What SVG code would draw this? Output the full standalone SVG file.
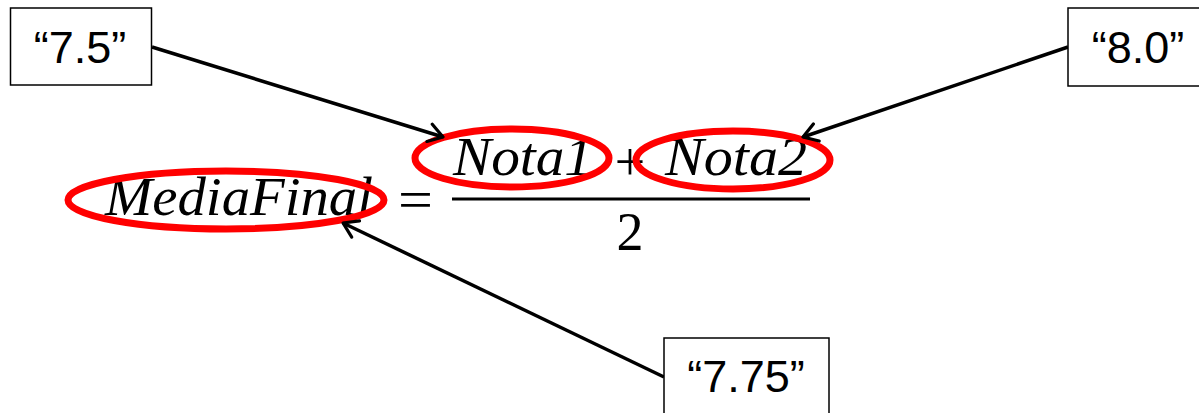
<svg xmlns="http://www.w3.org/2000/svg" width="1199" height="413" viewBox="0 0 1199 413">
<style>
.box{fill:#fff;stroke:#000;stroke-width:1.5}
.lbl{font-family:"Liberation Sans",Arial,sans-serif;font-size:45px;fill:#000;text-anchor:middle}
.math{font-family:"Liberation Serif","DejaVu Serif",serif;font-style:italic;font-size:54px;fill:#000}
.up{font-family:"Liberation Serif","DejaVu Serif",serif;font-size:54px;fill:#000}
.ring{fill:none;stroke:#ff0000;stroke-width:7}
.conn{stroke:#000;stroke-width:3.5;fill:none}
</style>
<defs>
<marker id="arr" viewBox="0 0 18 22" refX="16" refY="11" markerWidth="18" markerHeight="22" markerUnits="userSpaceOnUse" orient="auto">
<path d="M2,2 L16,11 L2,20" fill="none" stroke="#000" stroke-width="3.2" stroke-linecap="round" stroke-linejoin="round"/>
</marker>
</defs>
<g id="equation">
<text class="math" x="105" y="215" textLength="268" lengthAdjust="spacingAndGlyphs">MediaFinal</text>
<text class="up" x="398" y="218" font-size="62" textLength="35" lengthAdjust="spacingAndGlyphs">=</text>
<line x1="452" y1="199" x2="810" y2="199" stroke="#000" stroke-width="3"/>
<text class="math" x="453" y="175" textLength="140" lengthAdjust="spacingAndGlyphs">Nota1</text>
<text class="up" x="630" y="180" font-size="60" text-anchor="middle">+</text>
<text class="math" x="665" y="175" textLength="142" lengthAdjust="spacingAndGlyphs">Nota2</text>
<text class="up" x="630" y="250" text-anchor="middle">2</text>
</g>
<g id="rings">
<ellipse class="ring" cx="226" cy="200" rx="158" ry="29"/>
<ellipse class="ring" cx="512" cy="158" rx="97" ry="29"/>
<ellipse class="ring" cx="733" cy="160" rx="97" ry="29"/>
</g>
<g id="connectors">
<line class="conn" x1="152" y1="47" x2="443" y2="137" marker-end="url(#arr)"/>
<line class="conn" x1="1068" y1="47" x2="803" y2="137" marker-end="url(#arr)"/>
<line class="conn" x1="664" y1="377" x2="343" y2="223" marker-end="url(#arr)"/>
</g>
<g id="node-75">
<rect class="box" x="10.5" y="8" width="141" height="77"/>
<text class="lbl" x="80" y="63">“7.5”</text>
</g>
<g id="node-80">
<rect class="box" x="1068" y="8" width="140" height="78"/>
<text class="lbl" x="1138" y="63">“8.0”</text>
</g>
<g id="node-775">
<rect class="box" x="664" y="338" width="165" height="90"/>
<text class="lbl" x="746" y="392">“7.75”</text>
</g>
</svg>
